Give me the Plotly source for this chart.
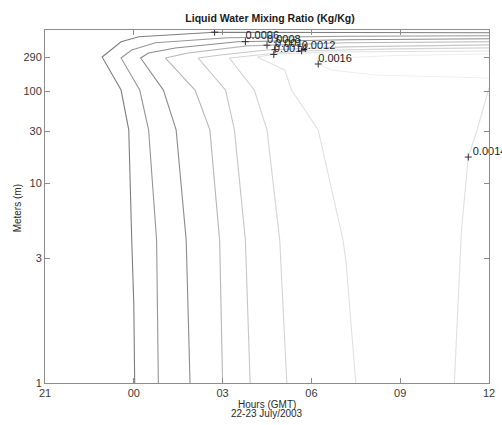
import numpy as np
import plotly.graph_objects as go

# Contour levels of liquid water mixing ratio (kg/kg)
LEVELS = [0.0002, 0.0004, 0.0006, 0.0008, 0.001, 0.0012, 0.0014, 0.0016]

# Each contour path: hours since 21 GMT on 22 July (24 = 00 GMT 23 July), heights in metres
L0002_HOURS = [24.03, 24.00, 23.93, 23.83, 23.57, 22.93, 23.57, 24.17, 26.73, 36.00]
L0002_HEIGHTS = [1, 2, 4, 31, 103, 290, 476, 561, 652, 641]

L0004_HOURS = [24.83, 24.77, 24.50, 24.20, 23.57, 23.93, 24.73, 27.17, 31.17, 36.00]
L0004_HEIGHTS = [1, 4, 31, 103, 281, 365, 461, 543, 571, 581]

L0006_HOURS = [25.90, 25.77, 25.43, 25.00, 24.23, 24.50, 25.40, 27.50, 31.17, 36.00]
L0006_HEIGHTS = [1, 4, 31, 103, 281, 331, 390, 476, 508, 526]

L0008_HOURS = [27.00, 26.90, 26.57, 26.07, 25.07, 25.83, 27.83, 31.17, 36.00]
L0008_HEIGHTS = [1, 4, 31, 103, 281, 331, 417, 461, 476]

L0010_HOURS = [27.93, 27.77, 27.40, 27.10, 26.17, 26.93, 28.50, 31.17, 36.00]
L0010_HEIGHTS = [1, 4, 31, 103, 281, 310, 365, 403, 431]

L0012_HOURS = [29.17, 28.93, 28.50, 28.07, 27.23, 27.83, 29.50, 32.83, 36.00]
L0012_HEIGHTS = [1, 4, 31, 103, 281, 299, 353, 378, 390]

L0014_HOURS = [31.50, 31.17, 31.07, 30.23, 29.33, 29.10, 28.17, 28.83, 30.50, 36.00]
L0014_HEIGHTS = [1, 2.9, 4, 31, 103, 193, 290, 320, 342, 353]

L0014B_HOURS = [34.83, 35.00, 35.07, 35.30, 35.60, 36.00]
L0014B_HEIGHTS = [1, 2.9, 4.7, 17.3, 31, 110]

L0016_HOURS = [36.00, 32.83, 30.83, 30.23, 30.67, 32.17, 36.00]
L0016_HEIGHTS = [320, 305, 281, 233, 193, 165, 150]

# Contour labels: level, hour and height of the label point
LABEL_LEVELS = [0.0002, 0.0006, 0.0008, 0.001, 0.0012, 0.0014, 0.0016]
LABEL_HOURS = [26.73, 27.77, 28.50, 28.77, 29.67, 28.73, 30.23]
LABEL_HEIGHTS = [652, 478, 426, 369, 355, 315, 233]

EDGE_LABEL_LEVEL = 0.0014
EDGE_LABEL_HOUR = 35.30
EDGE_LABEL_HEIGHT = 17.3

# Axis ticks
HOUR_TICKS = [21, 24, 27, 30, 33, 36]
HOUR_TICK_TEXT = ["21", "00", "03", "06", "09", "12"]
HEIGHT_TICKS = [1, 3, 10, 30, 100, 290]
HEIGHT_TICK_TEXT = ["1", "3", "10", "30", "100", "290"]


def height_axis(z):
    """Stretched vertical coordinate (model-level spacing) for heights in metres."""
    knots_m = np.log10([1, 3, 10, 30, 100, 290, 700])
    knots_pos = [0, 125, 200, 252, 292, 326, 353]
    return np.interp(np.log10(np.asarray(z, dtype=float)), knots_m, knots_pos)


contours = [
    (0.0002, L0002_HOURS, L0002_HEIGHTS, "#7e7e7e"),
    (0.0004, L0004_HOURS, L0004_HEIGHTS, "#969696"),
    (0.0006, L0006_HOURS, L0006_HEIGHTS, "#8c8c8c"),
    (0.0008, L0008_HOURS, L0008_HEIGHTS, "#b6b6b6"),
    (0.001, L0010_HOURS, L0010_HEIGHTS, "#c6c6c6"),
    (0.0012, L0012_HOURS, L0012_HEIGHTS, "#d4d4d4"),
    (0.0014, L0014_HOURS, L0014_HEIGHTS, "#e0e0e0"),
    (0.0014, L0014B_HOURS, L0014B_HEIGHTS, "#e0e0e0"),
    (0.0016, L0016_HOURS, L0016_HEIGHTS, "#eeeeee"),
]

fig = go.Figure()

for level, hrs, hts, color in contours:
    fig.add_trace(go.Scatter(
        x=hrs, y=height_axis(hts), mode="lines",
        line=dict(color=color, width=1.1),
        name=f"{level:g}", hoverinfo="skip", showlegend=False,
    ))

label_font = dict(family="Liberation Sans, Arial, sans-serif", size=11, color="#1a1a1a")
cross = dict(symbol="cross-thin", size=5, color="#333333", line=dict(width=1, color="#333333"))
TEXT_RISE = 5  # label text sits just above its "+" point (axis units)


def add_labels(hours, heights, levels, clip, dx=0.0):
    ypos = height_axis(heights)
    fig.add_trace(go.Scatter(
        x=hours, y=ypos, mode="markers", marker=cross, cliponaxis=clip,
        hoverinfo="skip", showlegend=False,
    ))
    fig.add_trace(go.Scatter(
        x=np.asarray(hours) + dx, y=ypos + TEXT_RISE, mode="text",
        text=[f"{v:g}" for v in levels], textposition="middle right",
        textfont=label_font, cliponaxis=clip,
        hoverinfo="skip", showlegend=False,
    ))


add_labels(LABEL_HOURS, LABEL_HEIGHTS, LABEL_LEVELS, True)
add_labels([EDGE_LABEL_HOUR], [EDGE_LABEL_HEIGHT], [EDGE_LABEL_LEVEL], False, dx=0.15)

axis_common = dict(
    showgrid=False, zeroline=False, showline=True, linecolor="#8c8c8c", linewidth=1,
    mirror="ticks", ticks="inside", ticklen=5, tickcolor="#8c8c8c", tickwidth=1,
    tickfont=dict(family="Liberation Sans, Arial, sans-serif", size=11, color="#3a3a3a"),
)

fig.update_xaxes(
    range=[21, 36], tickmode="array", tickvals=HOUR_TICKS, ticktext=HOUR_TICK_TEXT,
    **axis_common,
)
fig.update_yaxes(
    range=[0, 353], tickmode="array", tickvals=height_axis(HEIGHT_TICKS),
    ticktext=HEIGHT_TICK_TEXT, **axis_common,
)

text_font = dict(family="Liberation Sans, Arial, sans-serif", size=10, color="#2a2a2a")

LEFT, RIGHT = 45, 7
plot_w = 502 - LEFT - RIGHT

fig.update_layout(
    width=502, height=425,
    margin=dict(l=LEFT, r=RIGHT, t=30, b=42),
    paper_bgcolor="white", plot_bgcolor="white",
    title=dict(
        text="<b>Liquid Water Mixing Ratio (Kg/Kg)</b>",
        x=(LEFT + plot_w / 2) / 502, xanchor="center", y=1 - 18 / 425, yanchor="middle",
        font=dict(family="Liberation Sans, Arial, sans-serif", size=10.5, color="#1a1a1a"),
    ),
    annotations=[
        dict(text="Hours (GMT)", xref="paper", yref="paper",
             x=0.5, y=-(404 - 383) / 353, xanchor="center", yanchor="middle",
             showarrow=False, font=text_font),
        dict(text="22-23 July/2003", xref="paper", yref="paper",
             x=0.5, y=-(413 - 383) / 353, xanchor="center", yanchor="middle",
             showarrow=False, font=text_font),
        dict(text="Meters (m)", xref="paper", yref="paper",
             x=(17 - LEFT) / plot_w, y=(383 - 208) / 353, xanchor="center", yanchor="middle",
             textangle=-90, showarrow=False, font=text_font),
    ],
)

fig.write_html("out.html")
